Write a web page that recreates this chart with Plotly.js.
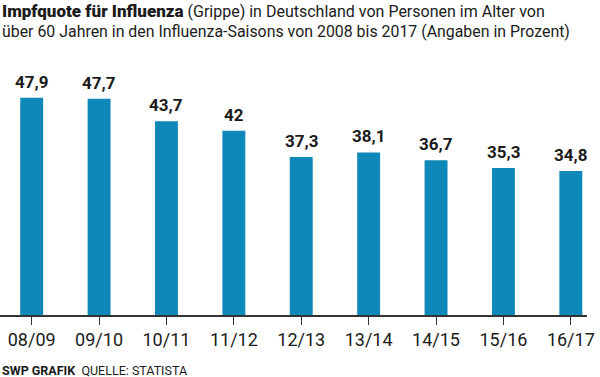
<!DOCTYPE html>
<html><head><meta charset="utf-8">
<script src="https://cdn.plot.ly/plotly-3.0.1.min.js"></script>
<style>html,body{margin:0;padding:0;background:#fff}#chart{width:600px;height:377px}</style>
</head><body><div id="chart"></div>
<script>
const seasons = ["08/09","09/10","10/11","11/12","12/13","13/14","14/15","15/16","16/17"];
const quote = [47.9, 47.7, 43.7, 42, 37.3, 38.1, 36.7, 35.3, 34.8];
const valueLabels = ["47,9","47,7","43,7","42","37,3","38,1","36,7","35,3","34,8"];
const titleBold = "Impfquote für Influenza";
const titleRest1 = " (Grippe) in Deutschland von Personen im Alter von";
const titleLine2 = "über 60 Jahren in den Influenza-Saisons von 2008 bis 2017 (Angaben in Prozent)";
const footerBold = "SWP GRAFIK";
const footerSource = "QUELLE: STATISTA";

const barColor = "#0e88b8";
const ink = "#1b1b1b";
const plotTop = 86, plotBottom = 315, plotH = plotBottom - plotTop;
const pyFrac = px => (plotBottom - px) / plotH;

const trace = {
  type: "bar",
  x: seasons,
  y: quote,
  width: 0.34,
  marker: {color: barColor},
  hoverinfo: "skip"
};

const annotations = seasons.map((s, i) => ({
  x: s, y: quote[i], xref: "x", yref: "y",
  text: "<b>" + valueLabels[i] + "</b>",
  showarrow: false, yanchor: "bottom", yshift: 4,
  font: {family: "Roboto", size: 17, color: ink}
}));

annotations.push({
  xref: "paper", yref: "paper", x: 0, y: pyFrac(11), xanchor: "left", yanchor: "middle",
  showarrow: false, align: "left",
  text: "<span style=\"font-weight:900;font-size:17px\">" + titleBold + "</span>" + titleRest1,
  font: {family: "Roboto", size: 16, color: ink}
});
annotations.push({
  xref: "paper", yref: "paper", x: 0, y: pyFrac(31), xanchor: "left", yanchor: "middle",
  showarrow: false, align: "left",
  text: titleLine2,
  font: {family: "Roboto", size: 15.9, color: ink}
});
annotations.push({
  xref: "paper", yref: "paper", x: 0, y: pyFrac(370), xanchor: "left", yanchor: "middle",
  showarrow: false,
  text: "<b>" + footerBold + "</b>  " + footerSource,
  font: {family: "Roboto", size: 12.5, color: ink}
});

const layout = {
  width: 600, height: 377,
  margin: {l: 0, r: 13, t: plotTop, b: 377 - plotBottom},
  paper_bgcolor: "#fff", plot_bgcolor: "#fff",
  showlegend: false,
  xaxis: {
    type: "category",
    range: [-0.47, 8.24],
    showline: true, linecolor: "#333", linewidth: 1.5,
    ticks: "outside", ticklen: 8, tickcolor: "#333", tickwidth: 1,
    tickfont: {family: "Roboto", size: 18, color: ink},
    showgrid: false, zeroline: false, fixedrange: true
  },
  yaxis: {
    range: [9, 50],
    visible: false, showgrid: false, zeroline: false, fixedrange: true
  },
  annotations: annotations
};

Plotly.newPlot("chart", [trace], layout, {displayModeBar: false, staticPlot: true});
</script>
</body></html>
